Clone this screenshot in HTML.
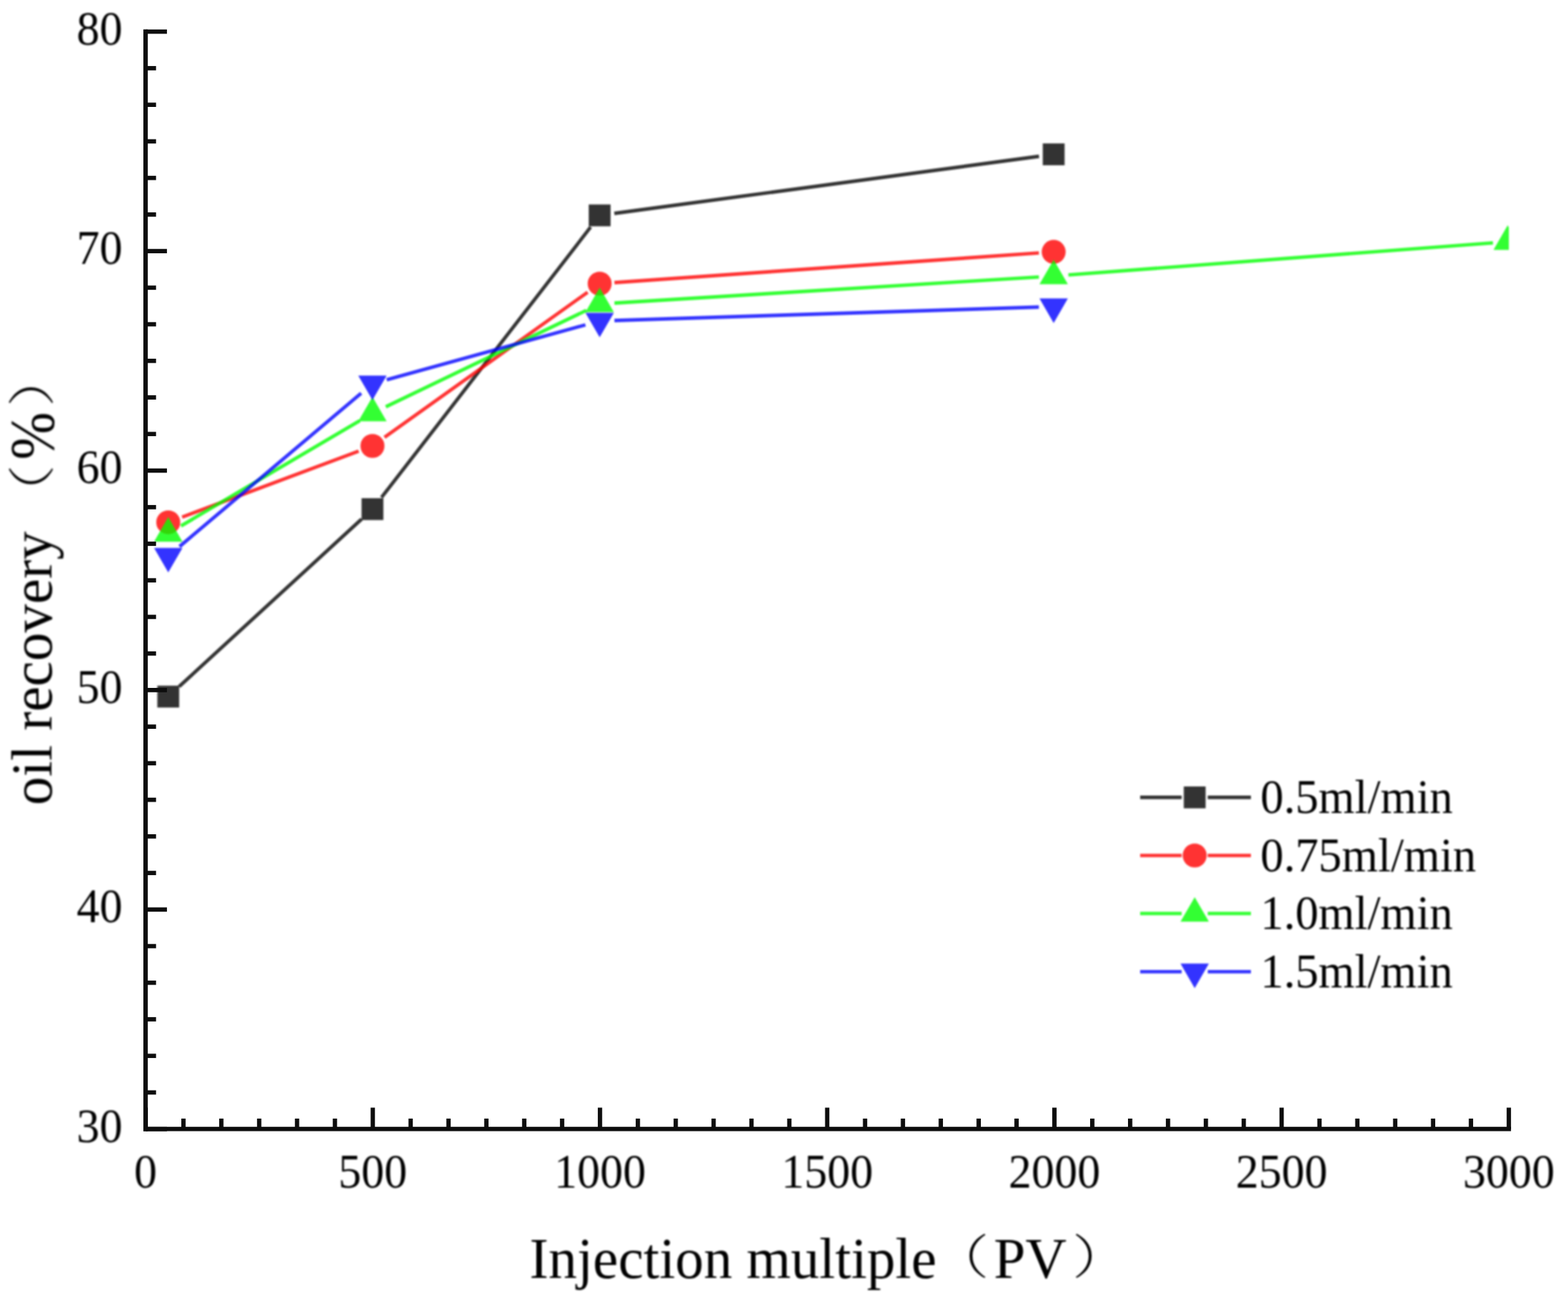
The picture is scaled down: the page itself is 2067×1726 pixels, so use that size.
<!DOCTYPE html>
<html lang="en"><head><meta charset="utf-8"><title>Oil recovery vs injection multiple</title>
<style>
html,body{margin:0;padding:0;background:#fff;}
body{width:2067px;height:1726px;overflow:hidden;}
svg{display:block;}
text{font-family:"Liberation Serif","Noto Serif CJK SC",serif;fill:#000;}
.cj{font-family:"Liberation Serif","Noto Serif CJK SC",serif;font-weight:200;}
</style></head><body>
<svg width="2067" height="1726" viewBox="0 0 2067 1726">
<rect width="2067" height="1726" fill="#fff"/>
<defs><clipPath id="pc"><rect x="189" y="0" width="1800" height="1488.7"/></clipPath>
<filter id="soft" filterUnits="userSpaceOnUse" x="0" y="0" width="2067" height="1726" color-interpolation-filters="sRGB"><feGaussianBlur stdDeviation="0.8"/></filter>
<filter id="softax" filterUnits="userSpaceOnUse" x="0" y="0" width="2067" height="1726" color-interpolation-filters="sRGB"><feGaussianBlur stdDeviation="0.45"/></filter>
</defs>
<g filter="url(#soft)"><g clip-path="url(#pc)">
<g opacity="1" fill-opacity="0.8" stroke-opacity="0.8">
<line x1="236.16" y1="905.31" x2="476.64" y2="684.49" stroke="#000000" stroke-width="4.6"/>
<line x1="502.93" y1="655.87" x2="778.57" y2="299.43" stroke="#000000" stroke-width="4.6"/>
<line x1="809.83" y1="281.4" x2="1369.67" y2="206.1" stroke="#000000" stroke-width="4.6"/>
<rect x="207.4" y="904.1" width="28.8" height="28.8" fill="#000000"/>
<rect x="476.6" y="656.9" width="28.8" height="28.8" fill="#000000"/>
<rect x="776.1" y="269.6" width="28.8" height="28.8" fill="#000000"/>
<rect x="1374.6" y="189.1" width="28.8" height="28.8" fill="#000000"/>
</g>
<g opacity="1" fill-opacity="0.8" stroke-opacity="0.8">
<line x1="240.06" y1="681.87" x2="472.74" y2="594.83" stroke="#ff0000" stroke-width="4.6"/>
<line x1="506.87" y1="576.66" x2="774.63" y2="385.34" stroke="#ff0000" stroke-width="4.6"/>
<line x1="809.95" y1="372.64" x2="1369.55" y2="333.46" stroke="#ff0000" stroke-width="4.6"/>
<circle cx="221.8" cy="688.7" r="15.8" fill="#ff0000"/>
<circle cx="491" cy="588" r="15.8" fill="#ff0000"/>
<circle cx="790.5" cy="374" r="15.8" fill="#ff0000"/>
<circle cx="1389" cy="332.1" r="15.8" fill="#ff0000"/>
</g>
<g opacity="1" fill-opacity="0.8" stroke-opacity="0.8">
<line x1="238.6" y1="693.5" x2="474.2" y2="554.7" stroke="#00ff00" stroke-width="4.6"/>
<line x1="508.57" y1="536.35" x2="772.93" y2="409.25" stroke="#00ff00" stroke-width="4.6"/>
<line x1="809.96" y1="399.6" x2="1369.54" y2="365.2" stroke="#00ff00" stroke-width="4.6"/>
<line x1="1408.44" y1="362.53" x2="1968.06" y2="320.17" stroke="#00ff00" stroke-width="4.6"/>
<polygon points="221.8,681.8 240.51,714.2 203.09,714.2" fill="#00ff00"/>
<polygon points="491,523.2 509.71,555.6 472.29,555.6" fill="#00ff00"/>
<polygon points="790.5,379.2 809.21,411.6 771.79,411.6" fill="#00ff00"/>
<polygon points="1389,342.4 1407.71,374.8 1370.29,374.8" fill="#00ff00"/>
<polygon points="1987.5,297.1 2006.21,329.5 1968.79,329.5" fill="#00ff00"/>
</g>
<g opacity="1" fill-opacity="0.8" stroke-opacity="0.8">
<line x1="236.7" y1="720.62" x2="476.1" y2="518.58" stroke="#0000ff" stroke-width="4.6"/>
<line x1="509.79" y1="500.8" x2="771.71" y2="428.4" stroke="#0000ff" stroke-width="4.6"/>
<line x1="809.99" y1="422.58" x2="1369.51" y2="404.92" stroke="#0000ff" stroke-width="4.6"/>
<polygon points="221.8,754.8 240.51,722.4 203.09,722.4" fill="#0000ff"/>
<polygon points="491,527.6 509.71,495.2 472.29,495.2" fill="#0000ff"/>
<polygon points="790.5,444.8 809.21,412.4 771.79,412.4" fill="#0000ff"/>
<polygon points="1389,425.9 1407.71,393.5 1370.29,393.5" fill="#0000ff"/>
</g>
</g></g>
<g stroke="#0d0d0d" stroke-width="5.7" fill="none" stroke-linecap="butt" filter="url(#softax)">
<line x1="191.9" y1="38.85" x2="191.9" y2="1491.6" stroke-width="5.8"/>
<line x1="189" y1="1488.7" x2="1991.85" y2="1488.7" stroke-width="5.8"/>
<line x1="191.9" y1="41.7" x2="220.1" y2="41.7"/>
<line x1="191.9" y1="89.93" x2="205.7" y2="89.93"/>
<line x1="191.9" y1="138.17" x2="205.7" y2="138.17"/>
<line x1="191.9" y1="186.4" x2="205.7" y2="186.4"/>
<line x1="191.9" y1="234.63" x2="205.7" y2="234.63"/>
<line x1="191.9" y1="282.87" x2="205.7" y2="282.87"/>
<line x1="191.9" y1="331.1" x2="220.1" y2="331.1"/>
<line x1="191.9" y1="379.33" x2="205.7" y2="379.33"/>
<line x1="191.9" y1="427.57" x2="205.7" y2="427.57"/>
<line x1="191.9" y1="475.8" x2="205.7" y2="475.8"/>
<line x1="191.9" y1="524.03" x2="205.7" y2="524.03"/>
<line x1="191.9" y1="572.27" x2="205.7" y2="572.27"/>
<line x1="191.9" y1="620.5" x2="220.1" y2="620.5"/>
<line x1="191.9" y1="668.73" x2="205.7" y2="668.73"/>
<line x1="191.9" y1="716.97" x2="205.7" y2="716.97"/>
<line x1="191.9" y1="765.2" x2="205.7" y2="765.2"/>
<line x1="191.9" y1="813.43" x2="205.7" y2="813.43"/>
<line x1="191.9" y1="861.67" x2="205.7" y2="861.67"/>
<line x1="191.9" y1="909.9" x2="220.1" y2="909.9"/>
<line x1="191.9" y1="958.13" x2="205.7" y2="958.13"/>
<line x1="191.9" y1="1006.37" x2="205.7" y2="1006.37"/>
<line x1="191.9" y1="1054.6" x2="205.7" y2="1054.6"/>
<line x1="191.9" y1="1102.83" x2="205.7" y2="1102.83"/>
<line x1="191.9" y1="1151.07" x2="205.7" y2="1151.07"/>
<line x1="191.9" y1="1199.3" x2="220.1" y2="1199.3"/>
<line x1="191.9" y1="1247.53" x2="205.7" y2="1247.53"/>
<line x1="191.9" y1="1295.77" x2="205.7" y2="1295.77"/>
<line x1="191.9" y1="1344" x2="205.7" y2="1344"/>
<line x1="191.9" y1="1392.23" x2="205.7" y2="1392.23"/>
<line x1="191.9" y1="1440.47" x2="205.7" y2="1440.47"/>
<line x1="191.9" y1="1488.7" x2="220.1" y2="1488.7"/>
<line x1="191.9" y1="1488.7" x2="191.9" y2="1460.5"/>
<line x1="241.82" y1="1488.7" x2="241.82" y2="1474.9"/>
<line x1="291.74" y1="1488.7" x2="291.74" y2="1474.9"/>
<line x1="341.66" y1="1488.7" x2="341.66" y2="1474.9"/>
<line x1="391.58" y1="1488.7" x2="391.58" y2="1474.9"/>
<line x1="441.5" y1="1488.7" x2="441.5" y2="1474.9"/>
<line x1="491.42" y1="1488.7" x2="491.42" y2="1460.5"/>
<line x1="541.34" y1="1488.7" x2="541.34" y2="1474.9"/>
<line x1="591.26" y1="1488.7" x2="591.26" y2="1474.9"/>
<line x1="641.17" y1="1488.7" x2="641.17" y2="1474.9"/>
<line x1="691.09" y1="1488.7" x2="691.09" y2="1474.9"/>
<line x1="741.01" y1="1488.7" x2="741.01" y2="1474.9"/>
<line x1="790.93" y1="1488.7" x2="790.93" y2="1460.5"/>
<line x1="840.85" y1="1488.7" x2="840.85" y2="1474.9"/>
<line x1="890.77" y1="1488.7" x2="890.77" y2="1474.9"/>
<line x1="940.69" y1="1488.7" x2="940.69" y2="1474.9"/>
<line x1="990.61" y1="1488.7" x2="990.61" y2="1474.9"/>
<line x1="1040.53" y1="1488.7" x2="1040.53" y2="1474.9"/>
<line x1="1090.45" y1="1488.7" x2="1090.45" y2="1460.5"/>
<line x1="1140.37" y1="1488.7" x2="1140.37" y2="1474.9"/>
<line x1="1190.29" y1="1488.7" x2="1190.29" y2="1474.9"/>
<line x1="1240.21" y1="1488.7" x2="1240.21" y2="1474.9"/>
<line x1="1290.13" y1="1488.7" x2="1290.13" y2="1474.9"/>
<line x1="1340.05" y1="1488.7" x2="1340.05" y2="1474.9"/>
<line x1="1389.97" y1="1488.7" x2="1389.97" y2="1460.5"/>
<line x1="1439.89" y1="1488.7" x2="1439.89" y2="1474.9"/>
<line x1="1489.81" y1="1488.7" x2="1489.81" y2="1474.9"/>
<line x1="1539.73" y1="1488.7" x2="1539.73" y2="1474.9"/>
<line x1="1589.64" y1="1488.7" x2="1589.64" y2="1474.9"/>
<line x1="1639.56" y1="1488.7" x2="1639.56" y2="1474.9"/>
<line x1="1689.48" y1="1488.7" x2="1689.48" y2="1460.5"/>
<line x1="1739.4" y1="1488.7" x2="1739.4" y2="1474.9"/>
<line x1="1789.32" y1="1488.7" x2="1789.32" y2="1474.9"/>
<line x1="1839.24" y1="1488.7" x2="1839.24" y2="1474.9"/>
<line x1="1889.16" y1="1488.7" x2="1889.16" y2="1474.9"/>
<line x1="1939.08" y1="1488.7" x2="1939.08" y2="1474.9"/>
<line x1="1989" y1="1488.7" x2="1989" y2="1460.5"/>
</g>
<g id="labels" filter="url(#soft)">
<text transform="translate(161.5 58.6) scale(1.000 1.040)" font-size="60.5" text-anchor="end" xml:space="preserve">80</text>
<text transform="translate(161.5 348) scale(1.000 1.040)" font-size="60.5" text-anchor="end" xml:space="preserve">70</text>
<text transform="translate(161.5 637.4) scale(1.000 1.040)" font-size="60.5" text-anchor="end" xml:space="preserve">60</text>
<text transform="translate(161.5 926.8) scale(1.000 1.040)" font-size="60.5" text-anchor="end" xml:space="preserve">50</text>
<text transform="translate(161.5 1216.2) scale(1.000 1.040)" font-size="60.5" text-anchor="end" xml:space="preserve">40</text>
<text transform="translate(161.5 1505.6) scale(1.000 1.040)" font-size="60.5" text-anchor="end" xml:space="preserve">30</text>
<text transform="translate(191.9 1565.5) scale(1.000 1.040)" font-size="60.5" text-anchor="middle" xml:space="preserve">0</text>
<text transform="translate(491.42 1565.5) scale(1.000 1.040)" font-size="60.5" text-anchor="middle" xml:space="preserve">500</text>
<text transform="translate(790.93 1565.5) scale(1.000 1.040)" font-size="60.5" text-anchor="middle" xml:space="preserve">1000</text>
<text transform="translate(1090.45 1565.5) scale(1.000 1.040)" font-size="60.5" text-anchor="middle" xml:space="preserve">1500</text>
<text transform="translate(1389.97 1565.5) scale(1.000 1.040)" font-size="60.5" text-anchor="middle" xml:space="preserve">2000</text>
<text transform="translate(1689.48 1565.5) scale(1.000 1.040)" font-size="60.5" text-anchor="middle" xml:space="preserve">2500</text>
<text transform="translate(1989 1565.5) scale(1.000 1.040)" font-size="60.5" text-anchor="middle" xml:space="preserve">3000</text>
<text id="xtitle" xml:space="preserve"><tspan x="698" y="1685.4" font-size="75.2">Injection multiple</tspan><tspan x="1228.9" y="1679.9" font-size="62.4" class="cj" textLength="74.88" lengthAdjust="spacingAndGlyphs">（</tspan><tspan x="1310" y="1685.4" font-size="75.2">PV</tspan><tspan x="1413.25" y="1679.9" font-size="62.4" class="cj" textLength="74.88" lengthAdjust="spacingAndGlyphs">）</tspan></text>
<text id="ytitle" transform="translate(67.8 1061.7) rotate(-90)" xml:space="preserve"><tspan x="0" y="0" font-size="75.2">oil recovery </tspan><tspan x="374.15" y="-2.8" font-size="62.4" class="cj" textLength="74.88" lengthAdjust="spacingAndGlyphs">（</tspan><tspan x="455.4" y="1.6" font-size="81.54" textLength="62.89" lengthAdjust="spacingAndGlyphs">%</tspan><tspan x="525.2" y="-3.2" font-size="62.4" class="cj" textLength="74.88" lengthAdjust="spacingAndGlyphs">）</tspan></text>
<g fill-opacity="0.8" stroke-opacity="0.8">
<line x1="1503" y1="1051.4" x2="1557.7" y2="1051.4" stroke="#000000" stroke-width="4.6"/>
<line x1="1592.1" y1="1051.4" x2="1649" y2="1051.4" stroke="#000000" stroke-width="4.6"/>
<rect x="1560.5" y="1037" width="28.8" height="28.8" fill="#000000"/>
</g>
<text transform="translate(1661.5 1072.1) scale(1.000 1.020)" font-size="61.3" xml:space="preserve">0.5ml/min</text>
<g fill-opacity="0.8" stroke-opacity="0.8">
<line x1="1503" y1="1128" x2="1557.7" y2="1128" stroke="#ff0000" stroke-width="4.6"/>
<line x1="1592.1" y1="1128" x2="1649" y2="1128" stroke="#ff0000" stroke-width="4.6"/>
<circle cx="1574.9" cy="1128" r="15.8" fill="#ff0000"/>
</g>
<text transform="translate(1661.5 1148.5) scale(1.000 1.020)" font-size="61.3" xml:space="preserve">0.75ml/min</text>
<g fill-opacity="0.8" stroke-opacity="0.8">
<line x1="1503" y1="1204.5" x2="1557.7" y2="1204.5" stroke="#00ff00" stroke-width="4.6"/>
<line x1="1592.1" y1="1204.5" x2="1649" y2="1204.5" stroke="#00ff00" stroke-width="4.6"/>
<polygon points="1574.9,1182.9 1593.61,1215.3 1556.19,1215.3" fill="#00ff00"/>
</g>
<text transform="translate(1661.5 1225.2) scale(1.000 1.020)" font-size="61.3" xml:space="preserve">1.0ml/min</text>
<g fill-opacity="0.8" stroke-opacity="0.8">
<line x1="1503" y1="1281.3" x2="1557.7" y2="1281.3" stroke="#0000ff" stroke-width="4.6"/>
<line x1="1592.1" y1="1281.3" x2="1649" y2="1281.3" stroke="#0000ff" stroke-width="4.6"/>
<polygon points="1574.9,1302.9 1593.61,1270.5 1556.19,1270.5" fill="#0000ff"/>
</g>
<text transform="translate(1661.5 1301.9) scale(1.000 1.020)" font-size="61.3" xml:space="preserve">1.5ml/min</text>
</g>
</svg></body></html>
